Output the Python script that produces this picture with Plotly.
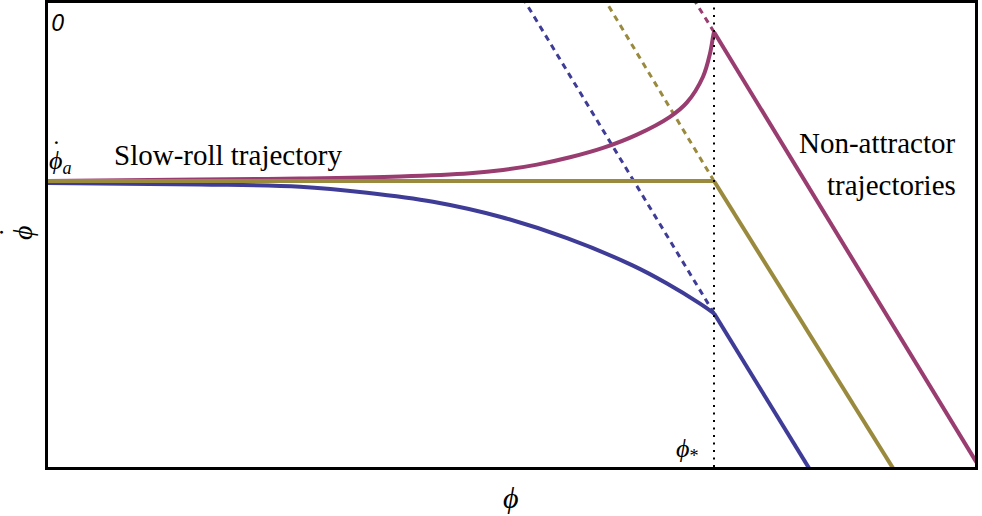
import plotly.graph_objects as go

# ---------------- data (phi on x, phi-dot on y; arbitrary units) ----------------
phi_star = 666

# attractor (slow-roll) trajectory
sr_phi = [0, 666]
sr_dphi = [-178, -178]

# trajectory above the attractor (magenta)
up_phi = [0, 152, 252, 352, 422, 455, 489, 522, 555, 589, 622, 639, 655, 662, 665, 666]
up_dphi = [-178, -176.5, -175.5, -173.5, -170.3, -167, -161.6, -154.3, -144.9, -131.6, -113.8,
           -99.4, -73.7, -50.5, -34, -29]

# trajectory below the attractor (blue)
dn_phi = [0, 152, 252, 319, 385, 452, 519, 585, 619, 652, 666]
dn_dphi = [-180, -181.5, -183.7, -189.7, -198.7, -213.7, -235.2, -262.6, -280.5, -300.6, -310.3]

# non-attractor (straight) segments after phi_*: start -> end
na_phi0 = [666, 666, 666]            # magenta, olive, blue
na_dphi0 = [-29, -178, -310.3]
na_phi1 = [935, 848, 764]
na_dphi1 = [-470, -470, -470]

# dashed backward continuations of the non-attractor lines
bk_phi1 = [640, 551, 470]
bk_dphi1 = [13, 13, 13]

colors = ["#993c70", "#9a8a3e", "#3e3c97"]

L, R, T, B = 48, 975, 3, 467
XR = [0, R - L]
YR = [-(B - T), 0]

fig = go.Figure()

for i in range(3):
    fig.add_trace(go.Scatter(x=[na_phi0[i], bk_phi1[i]], y=[na_dphi0[i], bk_dphi1[i]],
                             mode="lines", line=dict(color=colors[i], width=3, dash="6px,5px"),
                             hoverinfo="skip"))

fig.add_trace(go.Scatter(x=dn_phi, y=dn_dphi, mode="lines",
                         line=dict(color=colors[2], width=4, shape="spline", smoothing=1.0)))
fig.add_trace(go.Scatter(x=up_phi, y=up_dphi, mode="lines",
                         line=dict(color=colors[0], width=4, shape="spline", smoothing=1.0)))
fig.add_trace(go.Scatter(x=sr_phi, y=sr_dphi, mode="lines",
                         line=dict(color=colors[1], width=4)))

for i in range(3):
    fig.add_trace(go.Scatter(x=[na_phi0[i], na_phi1[i]], y=[na_dphi0[i], na_dphi1[i]],
                             mode="lines", line=dict(color=colors[i], width=4)))

fig.add_trace(go.Scatter(x=[phi_star, phi_star], y=[YR[0], YR[1]], mode="lines",
                         line=dict(color="black", width=2, dash="2px,5.5px")))


def px(xp, yp):
    return (xp - L) / (R - L), (B - yp) / (B - T)


serif = "Liberation Serif"
anns = []


def ann(text, xp, yp, size, xanchor="center", yanchor="middle", family=serif, angle=0):
    x, y = px(xp, yp)
    anns.append(dict(text=text, x=x, y=y, xref="paper", yref="paper", showarrow=False,
                     xanchor=xanchor, yanchor=yanchor, textangle=angle,
                     font=dict(family=family, size=size, color="black")))


ann("<i>0</i>", 49, 22, 24, xanchor="left", family="Open Sans")
ann("<i>ϕ</i><sub><i>a</i></sub>", 47, 162, 26, xanchor="left")
ann("˙", 56, 149, 26)
ann("Slow-roll trajectory", 228, 155, 29)
ann("Non-attractor", 958, 143, 29, xanchor="right")
ann("trajectories", 958, 185, 29, xanchor="right")
ann("<i>ϕ</i><sub>*</sub>", 674, 450, 26, xanchor="left")
ann("<i>ϕ</i>", 511, 497, 30)
ann("<i>ϕ</i>", 22, 233, 28, angle=-90)
ann("˙", 8, 233, 28, angle=-90)

fig.update_layout(
    width=982, height=516,
    margin=dict(l=L, r=982 - R, t=T, b=516 - B, autoexpand=False),
    paper_bgcolor="white", plot_bgcolor="white",
    showlegend=False,
    annotations=anns,
    xaxis=dict(range=XR, showticklabels=False, ticks="", showgrid=False, zeroline=False,
               showline=True, mirror=True, linecolor="black", linewidth=3),
    yaxis=dict(range=YR, showticklabels=False, ticks="", showgrid=False, zeroline=False,
               showline=True, mirror=True, linecolor="black", linewidth=3),
)

fig.write_html("out.html", config={"displayModeBar": False},
               post_script="document.body.style.margin='0';")
